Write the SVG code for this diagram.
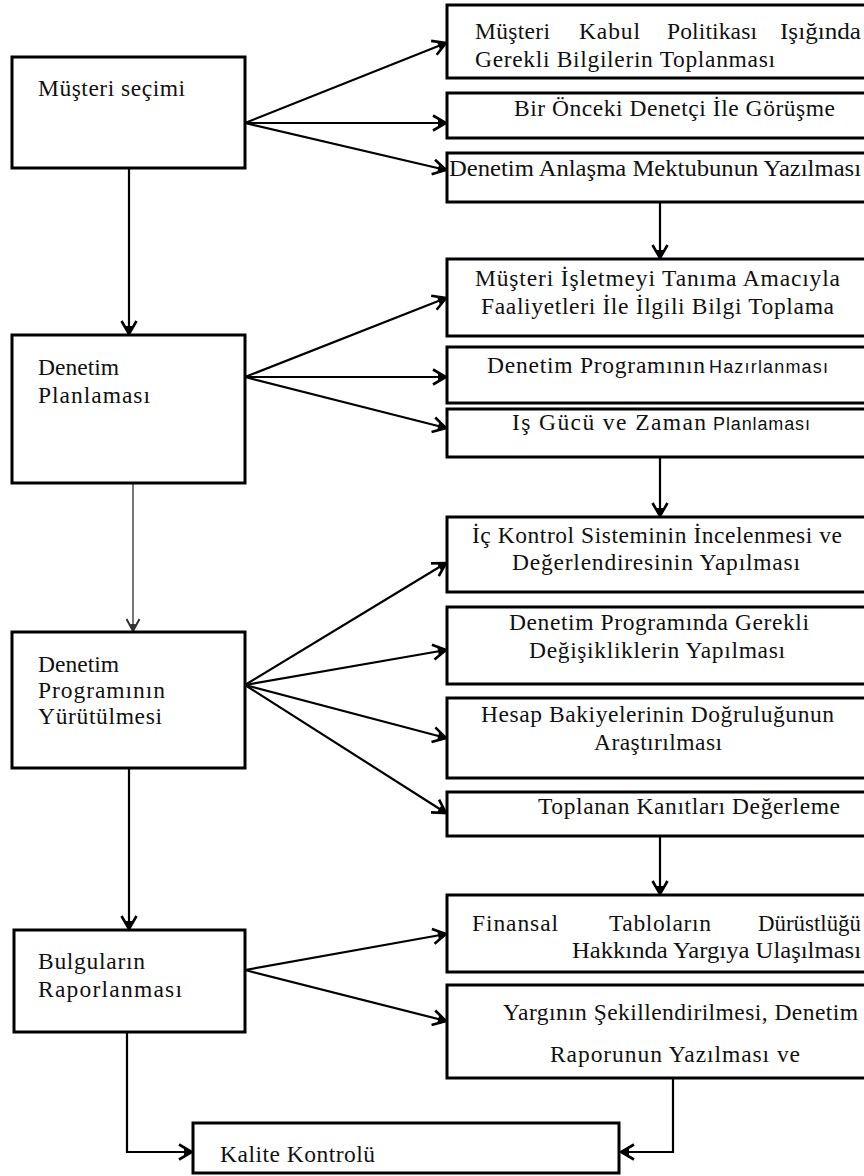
<svg xmlns="http://www.w3.org/2000/svg" width="864" height="1176" viewBox="0 0 864 1176">
<style>
.box{fill:#fff;stroke:#000;stroke-width:3}
.t{font-family:"Liberation Serif","Times New Roman",serif;font-size:23.5px;fill:#111}
.s{font-family:"Liberation Sans",Arial,sans-serif;font-size:18px;fill:#111}
.c{fill:none;stroke:#000;stroke-width:2.2}
.g{fill:none;stroke:#555;stroke-width:1.6}
</style>
<defs>
<marker id="ah" viewBox="-15 -9 17 18" refX="0" refY="0" markerWidth="17" markerHeight="18" markerUnits="userSpaceOnUse" orient="auto">
<path d="M-13,-7.5 L0,0 L-13,7.5" fill="none" stroke="#000" stroke-width="2.6"/>
<path d="M-8,-3.5 L0,0 L-8,3.5 z" fill="#000"/>
</marker>
<marker id="ahg" viewBox="-15 -9 17 18" refX="0" refY="0" markerWidth="17" markerHeight="18" markerUnits="userSpaceOnUse" orient="auto">
<path d="M-12,-6.5 L0,0 L-12,6.5" fill="none" stroke="#333" stroke-width="2"/>
<path d="M-7,-3 L0,0 L-7,3 z" fill="#333"/>
</marker>
</defs>
<rect width="864" height="1176" fill="#fff"/>

<g id="connectors">
<line class="c" x1="245" y1="123" x2="446" y2="43" marker-end="url(#ah)"/>
<line class="c" x1="245" y1="123" x2="446" y2="123" marker-end="url(#ah)"/>
<line class="c" x1="245" y1="123" x2="446" y2="170" marker-end="url(#ah)"/>
<line class="c" x1="245" y1="377" x2="446" y2="298" marker-end="url(#ah)"/>
<line class="c" x1="245" y1="377" x2="446" y2="377" marker-end="url(#ah)"/>
<line class="c" x1="245" y1="377" x2="446" y2="428" marker-end="url(#ah)"/>
<line class="c" x1="245" y1="685" x2="446" y2="563" marker-end="url(#ah)"/>
<line class="c" x1="245" y1="685" x2="446" y2="650" marker-end="url(#ah)"/>
<line class="c" x1="245" y1="685" x2="446" y2="738" marker-end="url(#ah)"/>
<line class="c" x1="245" y1="685" x2="446" y2="813" marker-end="url(#ah)"/>
<line class="c" x1="245" y1="970" x2="446" y2="934" marker-end="url(#ah)"/>
<line class="c" x1="245" y1="970" x2="446" y2="1021" marker-end="url(#ah)"/>
<line class="c" x1="129" y1="168" x2="129" y2="334" marker-end="url(#ah)"/>
<line class="g" x1="133" y1="484" x2="133" y2="631" marker-end="url(#ahg)"/>
<line class="c" x1="129" y1="740" x2="129" y2="929" marker-end="url(#ah)"/>
<polyline class="c" points="127,1008 127,1152 192,1152" marker-end="url(#ah)"/>
<polyline class="c" points="673,1078 673,1152 621,1152" marker-end="url(#ah)"/>
<line class="c" x1="660" y1="202" x2="660" y2="258" marker-end="url(#ah)"/>
<line class="c" x1="660" y1="457" x2="660" y2="516" marker-end="url(#ah)"/>
<line class="c" x1="660" y1="836" x2="660" y2="894" marker-end="url(#ah)"/>
</g>

<g id="musteri-secimi">
<rect class="box" x="12" y="57" width="233" height="111"/>
<text class="t" x="38" y="96" textLength="147" lengthAdjust="spacing">Müşteri seçimi</text>
</g>
<g id="denetim-planlamasi">
<rect class="box" x="12" y="335" width="233" height="148"/>
<text class="t" x="38" y="375" textLength="81" lengthAdjust="spacing">Denetim</text>
<text class="t" x="38" y="403" textLength="112" lengthAdjust="spacing">Planlaması</text>
</g>
<g id="denetim-programinin-yurutulmesi">
<rect class="box" x="12" y="632" width="233" height="136"/>
<text class="t" x="38" y="672" textLength="81" lengthAdjust="spacing">Denetim</text>
<text class="t" x="38" y="698" textLength="127" lengthAdjust="spacing">Programının</text>
<text class="t" x="38" y="724" textLength="124" lengthAdjust="spacing">Yürütülmesi</text>
</g>
<g id="bulgularin-raporlanmasi">
<rect class="box" x="14" y="930" width="231" height="102"/>
<text class="t" x="38" y="969" textLength="107" lengthAdjust="spacing">Bulguların</text>
<text class="t" x="38" y="997" textLength="144" lengthAdjust="spacing">Raporlanması</text>
</g>
<g id="kalite-kontrolu">
<rect class="box" x="193" y="1123" width="426" height="50"/>
<text class="t" x="220" y="1162" textLength="155" lengthAdjust="spacing">Kalite Kontrolü</text>
</g>

<g id="r1">
<rect class="box" x="447" y="5" width="460" height="73"/>
<text class="t" x="475" y="39" textLength="75" lengthAdjust="spacing">Müşteri</text>
<text class="t" x="579" y="39" textLength="61" lengthAdjust="spacing">Kabul</text>
<text class="t" x="667" y="39" textLength="90" lengthAdjust="spacing">Politikası</text>
<text class="t" x="780" y="39" textLength="81" lengthAdjust="spacingAndGlyphs">Işığında</text>
<text class="t" x="475" y="67" textLength="300" lengthAdjust="spacing">Gerekli Bilgilerin  Toplanması</text>
</g>
<g id="r2">
<rect class="box" x="447" y="93" width="460" height="45"/>
<text class="t" x="514" y="116" textLength="321" lengthAdjust="spacing">Bir Önceki Denetçi İle Görüşme</text>
</g>
<g id="r3">
<rect class="box" x="447" y="153" width="460" height="49"/>
<text class="t" x="449" y="176" textLength="412" lengthAdjust="spacingAndGlyphs">Denetim  Anlaşma Mektubunun Yazılması</text>
</g>
<g id="r4">
<rect class="box" x="447" y="259" width="460" height="77"/>
<text class="t" x="475" y="286" textLength="365" lengthAdjust="spacing">Müşteri İşletmeyi Tanıma Amacıyla</text>
<text class="t" x="481" y="314" textLength="353" lengthAdjust="spacing">Faaliyetleri İle İlgili  Bilgi  Toplama</text>
</g>
<g id="r5">
<rect class="box" x="447" y="347" width="460" height="56"/>
<text class="t" x="487" y="373" textLength="218" lengthAdjust="spacing">Denetim  Programının</text>
<text class="s" x="709" y="373" textLength="119" lengthAdjust="spacing">Hazırlanması</text>
</g>
<g id="r6">
<rect class="box" x="447" y="409" width="460" height="48"/>
<text class="t" x="512" y="430" textLength="194" lengthAdjust="spacing">Iş Gücü ve Zaman</text>
<text class="s" x="713" y="430" textLength="97" lengthAdjust="spacing">Planlaması</text>
</g>
<g id="r7">
<rect class="box" x="447" y="517" width="460" height="75"/>
<text class="t" x="472" y="543" textLength="370" lengthAdjust="spacing">İç Kontrol Sisteminin İncelenmesi ve</text>
<text class="t" x="512" y="570" textLength="288" lengthAdjust="spacing">Değerlendiresinin  Yapılması</text>
</g>
<g id="r8">
<rect class="box" x="447" y="607" width="460" height="77"/>
<text class="t" x="509" y="630" textLength="300" lengthAdjust="spacing">Denetim  Programında Gerekli</text>
<text class="t" x="529" y="658" textLength="256" lengthAdjust="spacing">Değişikliklerin  Yapılması</text>
</g>
<g id="r9">
<rect class="box" x="447" y="698" width="460" height="80"/>
<text class="t" x="481" y="722" textLength="353" lengthAdjust="spacing">Hesap Bakiyelerinin Doğruluğunun</text>
<text class="t" x="594" y="750" textLength="128" lengthAdjust="spacing">Araştırılması</text>
</g>
<g id="r10">
<rect class="box" x="447" y="792" width="460" height="44"/>
<text class="t" x="538" y="814" textLength="302" lengthAdjust="spacing">Toplanan Kanıtları Değerleme</text>
</g>
<g id="r11">
<rect class="box" x="447" y="895" width="460" height="77"/>
<text class="t" x="472" y="931" textLength="86" lengthAdjust="spacing">Finansal</text>
<text class="t" x="609" y="931" textLength="102" lengthAdjust="spacing">Tabloların</text>
<text class="t" x="758" y="931" textLength="103" lengthAdjust="spacingAndGlyphs">Dürüstlüğü</text>
<text class="t" x="572" y="958" textLength="289" lengthAdjust="spacingAndGlyphs">Hakkında Yargıya Ulaşılması</text>
</g>
<g id="r12">
<rect class="box" x="447" y="985" width="460" height="93"/>
<text class="t" x="503" y="1020" textLength="355" lengthAdjust="spacing">Yargının Şekillendirilmesi,  Denetim</text>
<text class="t" x="550" y="1062" textLength="250" lengthAdjust="spacing">Raporunun Yazılması ve</text>
</g>
</svg>
